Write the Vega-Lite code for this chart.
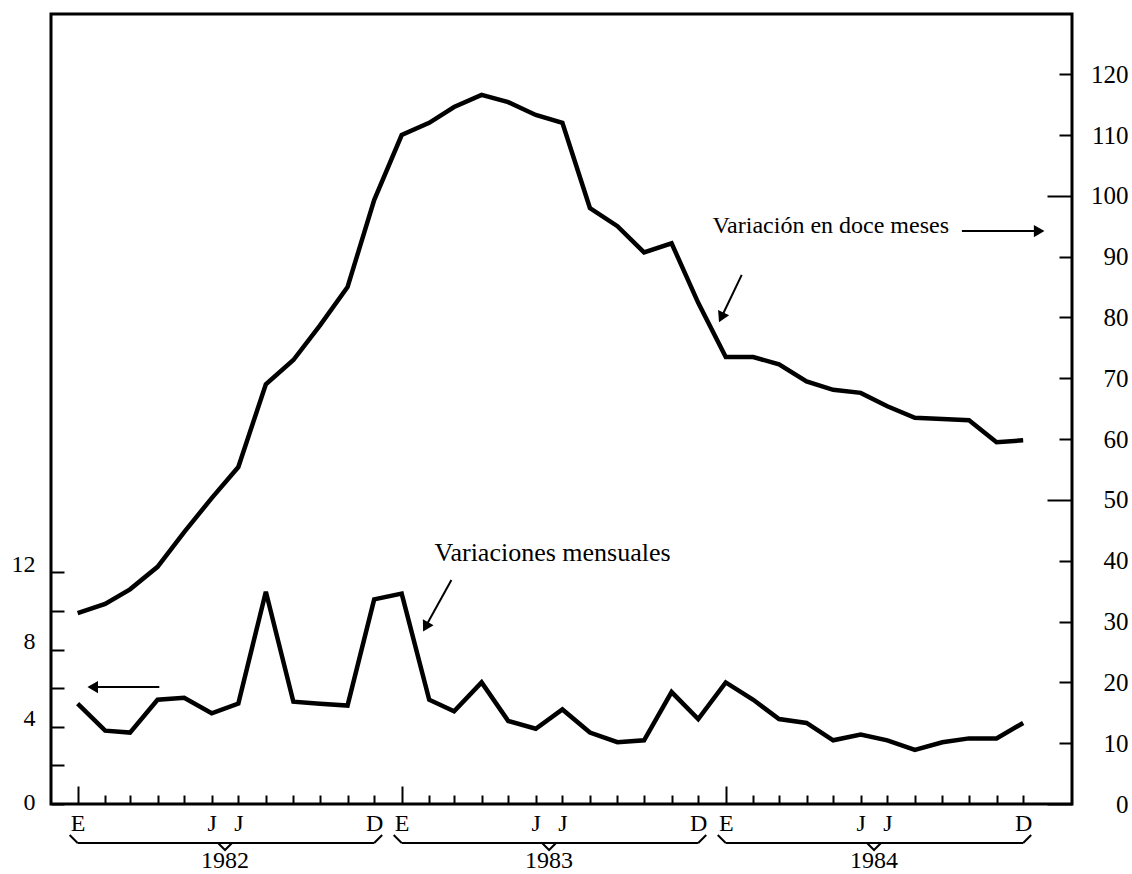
{
  "$schema": "https://vega.github.io/schema/vega-lite/v6.json",
  "width": 1021,
  "height": 790,
  "autosize": "none",
  "padding": {"left": 51, "top": 14, "right": 60, "bottom": 70},
  "background": "white",
  "config": {
    "view": {"stroke": "black", "strokeWidth": 3},
    "font": "Liberation Serif",
    "axis": {"labelFont": "Liberation Serif", "labelColor": "black", "tickColor": "black", "domain": false, "grid": false}
  },
  "datasets": {
    "serie": [
      {"mes": "1982-01-01", "mensual": 5.2, "doce_meses": 31.4},
      {"mes": "1982-02-01", "mensual": 3.8, "doce_meses": 32.9},
      {"mes": "1982-03-01", "mensual": 3.7, "doce_meses": 35.3},
      {"mes": "1982-04-01", "mensual": 5.4, "doce_meses": 39.0},
      {"mes": "1982-05-01", "mensual": 5.5, "doce_meses": 44.7},
      {"mes": "1982-06-01", "mensual": 4.7, "doce_meses": 50.3},
      {"mes": "1982-07-01", "mensual": 5.2, "doce_meses": 55.4},
      {"mes": "1982-08-01", "mensual": 11.0, "doce_meses": 69.0},
      {"mes": "1982-09-01", "mensual": 5.3, "doce_meses": 73.0},
      {"mes": "1982-10-01", "mensual": 5.2, "doce_meses": 78.7},
      {"mes": "1982-11-01", "mensual": 5.1, "doce_meses": 85.0},
      {"mes": "1982-12-01", "mensual": 10.6, "doce_meses": 99.3},
      {"mes": "1983-01-01", "mensual": 10.9, "doce_meses": 110.0},
      {"mes": "1983-02-01", "mensual": 5.4, "doce_meses": 112.0},
      {"mes": "1983-03-01", "mensual": 4.8, "doce_meses": 114.6},
      {"mes": "1983-04-01", "mensual": 6.3, "doce_meses": 116.6},
      {"mes": "1983-05-01", "mensual": 4.3, "doce_meses": 115.4},
      {"mes": "1983-06-01", "mensual": 3.9, "doce_meses": 113.3},
      {"mes": "1983-07-01", "mensual": 4.9, "doce_meses": 112.0},
      {"mes": "1983-08-01", "mensual": 3.7, "doce_meses": 98.0},
      {"mes": "1983-09-01", "mensual": 3.2, "doce_meses": 95.0},
      {"mes": "1983-10-01", "mensual": 3.3, "doce_meses": 90.7},
      {"mes": "1983-11-01", "mensual": 5.8, "doce_meses": 92.2},
      {"mes": "1983-12-01", "mensual": 4.4, "doce_meses": 82.4},
      {"mes": "1984-01-01", "mensual": 6.3, "doce_meses": 73.5},
      {"mes": "1984-02-01", "mensual": 5.4, "doce_meses": 73.5},
      {"mes": "1984-03-01", "mensual": 4.4, "doce_meses": 72.3},
      {"mes": "1984-04-01", "mensual": 4.2, "doce_meses": 69.5},
      {"mes": "1984-05-01", "mensual": 3.3, "doce_meses": 68.1},
      {"mes": "1984-06-01", "mensual": 3.6, "doce_meses": 67.6},
      {"mes": "1984-07-01", "mensual": 3.3, "doce_meses": 65.4},
      {"mes": "1984-08-01", "mensual": 2.8, "doce_meses": 63.5},
      {"mes": "1984-09-01", "mensual": 3.2, "doce_meses": 63.3},
      {"mes": "1984-10-01", "mensual": 3.4, "doce_meses": 63.1},
      {"mes": "1984-11-01", "mensual": 3.4, "doce_meses": 59.5},
      {"mes": "1984-12-01", "mensual": 4.2, "doce_meses": 59.8}
    ],
    "anios": [
      {"anio": "1982", "inicio": "1982-01-01", "fin": "1982-12-01", "centro": "1982-06-16"},
      {"anio": "1983", "inicio": "1983-01-01", "fin": "1983-12-01", "centro": "1983-06-16"},
      {"anio": "1984", "inicio": "1984-01-01", "fin": "1984-12-01", "centro": "1984-06-16"}
    ],
    "uno": [{}]
  },
  "layer": [
    {
      "layer": [
        {
          "data": {"name": "serie"},
          "mark": {"type": "line", "color": "black", "strokeWidth": 4.5},
          "encoding": {
            "x": {
              "field": "mes", "type": "temporal",
              "scale": {"type": "utc", "domain": [{"year": 1981, "month": 12, "date": 2, "utc": true}, {"year": 1985, "month": 1, "date": 25, "utc": true}]},
              "axis": {
                "orient": "bottom",
                "title": null,
                "tickCount": {"interval": "month", "step": 1},
                "tickSize": {"condition": {"test": "utcmonth(datum.value) === 0", "value": -18}, "value": -9},
                "tickOpacity": {"condition": {"test": "utcyear(datum.value) < 1982 || utcyear(datum.value) > 1984", "value": 0}, "value": 1},
                "tickWidth": 2,
                "labelExpr": "utcyear(datum.value) < 1982 || utcyear(datum.value) > 1984 ? '' : utcmonth(datum.value) === 0 ? 'E' : (utcmonth(datum.value) === 5 || utcmonth(datum.value) === 6) ? 'J' : utcmonth(datum.value) === 11 ? 'D' : ''",
                "labelFontSize": 24,
                "labelPadding": {"condition": {"test": "utcmonth(datum.value) === 0", "value": 25}, "value": 16},
                "labelAlign": "center",
                "labelBaseline": "top",
                "labelOverlap": false,
                "labelFlush": false
              }
            },
            "y": {
              "field": "mensual", "type": "quantitative",
              "scale": {"domain": [0, 40.93], "nice": false, "zero": false},
              "axis": {
                "orient": "left",
                "title": null,
                "values": [0, 2, 4, 6, 8, 10, 12],
                "tickSize": -13,
                "tickWidth": 2,
                "labelExpr": "datum.value % 4 === 0 ? datum.label : ''",
                "labelFontSize": 24,
                "labelPadding": 29,
                "labelOffset": {"condition": {"test": "datum.value === 0", "value": -2}, "value": -8}
              }
            }
          }
        },
        {
          "data": {"name": "anios"},
          "mark": {"type": "rule", "color": "black", "strokeWidth": 2},
          "encoding": {
            "x": {"field": "inicio", "type": "temporal", "axis": {"title": null}},
            "x2": {"field": "fin"},
            "y": {"datum": -2.02, "axis": {"title": null}}
          }
        },
        {
          "data": {"name": "anios"},
          "mark": {"type": "point", "shape": "M0,0L-1,-1", "size": 256, "filled": false, "color": "black", "strokeWidth": 2, "opacity": 1},
          "encoding": {
            "x": {"field": "inicio", "type": "temporal", "axis": {"title": null}},
            "y": {"datum": -2.02, "axis": {"title": null}}
          }
        },
        {
          "data": {"name": "anios"},
          "mark": {"type": "point", "shape": "M0,0L1,-1", "size": 256, "filled": false, "color": "black", "strokeWidth": 2, "opacity": 1},
          "encoding": {
            "x": {"field": "fin", "type": "temporal", "axis": {"title": null}},
            "y": {"datum": -2.02, "axis": {"title": null}}
          }
        },
        {
          "data": {"name": "anios"},
          "mark": {"type": "point", "shape": "M-1,0L0,1L1,0", "size": 196, "filled": false, "color": "black", "strokeWidth": 2, "opacity": 1},
          "encoding": {
            "x": {"field": "centro", "type": "temporal", "axis": {"title": null}},
            "y": {"datum": -2.02, "axis": {"title": null}}
          }
        },
        {
          "data": {"name": "anios"},
          "mark": {"type": "text", "color": "black", "fontSize": 24, "font": "Liberation Serif", "baseline": "middle", "align": "center"},
          "encoding": {
            "x": {"field": "centro", "type": "temporal", "axis": {"title": null}},
            "y": {"datum": -2.95, "axis": {"title": null}},
            "text": {"field": "anio"}
          }
        },
        {
          "data": {"name": "uno"},
          "mark": {"type": "text", "text": "Variaciones mensuales", "color": "black", "fontSize": 26, "font": "Liberation Serif", "align": "left", "baseline": "middle"},
          "encoding": {
            "x": {"datum": {"year": 1983, "month": 2, "date": 7, "utc": true}, "type": "temporal", "axis": {"title": null}},
            "y": {"datum": 13.0, "axis": {"title": null}}
          }
        },
        {
          "data": {"name": "uno"},
          "mark": {"type": "rule", "color": "black", "strokeWidth": 2},
          "encoding": {
            "x": {"datum": {"year": 1983, "month": 2, "date": 26, "utc": true}, "type": "temporal", "axis": {"title": null}},
            "x2": {"datum": {"year": 1983, "month": 1, "date": 28, "utc": true}},
            "y": {"datum": 11.6, "axis": {"title": null}},
            "y2": {"datum": 9.2}
          }
        },
        {
          "data": {"name": "uno"},
          "mark": {"type": "point", "shape": "triangle-up", "angle": 209, "size": 150, "filled": true, "color": "black", "opacity": 1},
          "encoding": {
            "x": {"datum": {"year": 1983, "month": 1, "date": 28, "utc": true}, "type": "temporal", "axis": {"title": null}},
            "y": {"datum": 9.18, "axis": {"title": null}}
          }
        },
        {
          "data": {"name": "uno"},
          "mark": {"type": "rule", "color": "black", "strokeWidth": 2},
          "encoding": {
            "x": {"datum": {"year": 1982, "month": 4, "date": 3, "utc": true}, "type": "temporal", "axis": {"title": null}},
            "x2": {"datum": {"year": 1982, "month": 1, "date": 18, "utc": true}},
            "y": {"datum": 6.06, "axis": {"title": null}}
          }
        },
        {
          "data": {"name": "uno"},
          "mark": {"type": "point", "shape": "triangle-left", "size": 150, "filled": true, "color": "black", "opacity": 1},
          "encoding": {
            "x": {"datum": {"year": 1982, "month": 1, "date": 18, "utc": true}, "type": "temporal", "axis": {"title": null}},
            "y": {"datum": 6.06, "axis": {"title": null}}
          }
        }
      ]
    },
    {
      "layer": [
        {
          "data": {"name": "serie"},
          "mark": {"type": "line", "color": "black", "strokeWidth": 4.5},
          "encoding": {
            "x": {"field": "mes", "type": "temporal", "axis": {"title": null}},
            "y": {
              "field": "doce_meses", "type": "quantitative",
              "scale": {"domain": [0, 129.9], "nice": false, "zero": false},
              "axis": {
                "orient": "right",
                "title": null,
                "values": [0, 10, 20, 30, 40, 50, 60, 70, 80, 90, 100, 110, 120],
                "tickSize": {"condition": {"test": "datum.value % 50 === 0", "value": -25}, "value": -13},
                "tickWidth": 2,
                "labelFontSize": 25,
                "labelPadding": {"condition": {"test": "datum.value % 50 === 0", "value": 81}, "value": 69},
                "labelAlign": "right"
              }
            }
          }
        },
        {
          "data": {"name": "uno"},
          "mark": {"type": "text", "text": "Variación en doce meses", "color": "black", "fontSize": 24, "font": "Liberation Serif", "align": "left", "baseline": "middle"},
          "encoding": {
            "x": {"datum": {"year": 1983, "month": 12, "date": 17, "utc": true}, "type": "temporal", "axis": {"title": null}},
            "y": {"datum": 95.0, "axis": {"title": null}}
          }
        },
        {
          "data": {"name": "uno"},
          "mark": {"type": "rule", "color": "black", "strokeWidth": 2},
          "encoding": {
            "x": {"datum": {"year": 1984, "month": 9, "date": 23, "utc": true}, "type": "temporal", "axis": {"title": null}},
            "x2": {"datum": {"year": 1984, "month": 12, "date": 19, "utc": true}},
            "y": {"datum": 94.2, "axis": {"title": null}}
          }
        },
        {
          "data": {"name": "uno"},
          "mark": {"type": "point", "shape": "triangle-right", "size": 150, "filled": true, "color": "black", "opacity": 1},
          "encoding": {
            "x": {"datum": {"year": 1984, "month": 12, "date": 19, "utc": true}, "type": "temporal", "axis": {"title": null}},
            "y": {"datum": 94.2, "axis": {"title": null}}
          }
        },
        {
          "data": {"name": "uno"},
          "mark": {"type": "rule", "color": "black", "strokeWidth": 2},
          "encoding": {
            "x": {"datum": {"year": 1984, "month": 1, "date": 19, "utc": true}, "type": "temporal", "axis": {"title": null}},
            "x2": {"datum": {"year": 1983, "month": 12, "date": 27, "utc": true}},
            "y": {"datum": 87.0, "axis": {"title": null}},
            "y2": {"datum": 80.0}
          }
        },
        {
          "data": {"name": "uno"},
          "mark": {"type": "point", "shape": "triangle-up", "angle": 205.6, "size": 150, "filled": true, "color": "black", "opacity": 1},
          "encoding": {
            "x": {"datum": {"year": 1983, "month": 12, "date": 27, "utc": true}, "type": "temporal", "axis": {"title": null}},
            "y": {"datum": 80.0, "axis": {"title": null}}
          }
        }
      ]
    }
  ],
  "resolve": {"scale": {"y": "independent"}, "axis": {"y": "independent"}}
}
